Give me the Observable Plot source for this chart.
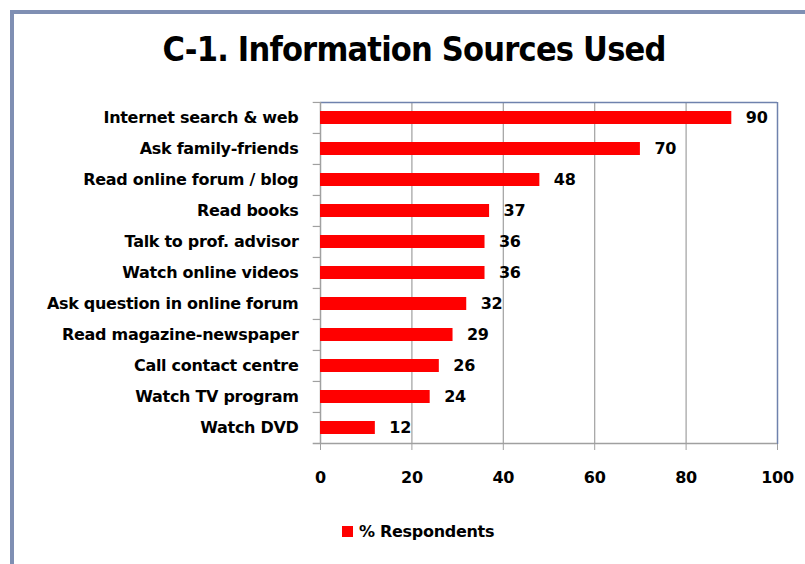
<!DOCTYPE html>
<html>
<head>
<meta charset="utf-8">
<script src="https://cdn.jsdelivr.net/npm/d3@7"></script>
<script src="https://cdn.jsdelivr.net/npm/@observablehq/plot@0.6"></script>
<style>
  html, body { margin: 0; padding: 0; background: #fff; }
  #wrap { position: relative; width: 805px; height: 564px; overflow: hidden; background: #fff; }
  #frame { position: absolute; left: 10px; top: 10px; width: 820px; height: 580px;
           border-left: 4px solid #7f8fb3; border-top: 4px solid #7f8fb3; box-sizing: border-box; }
  #title { position: absolute; left: 414px; top: 29px; transform: translateX(-50%); white-space: nowrap;
           font-family: "DejaVu Sans Condensed", "DejaVu Sans", sans-serif; font-weight: bold;
           font-size: 34px; letter-spacing: -0.8px; color: #000; line-height: 1.2; }
  #chart { position: absolute; left: 0; top: 0; }
  #legend { position: absolute; left: 342px; top: 522px; display: flex; align-items: center;
            font-family: "DejaVu Sans", sans-serif; font-weight: bold;
            font-size: 16px; letter-spacing: -0.3px; color: #000; }
  #legend .sw { width: 11px; height: 11px; background: #ff0000; margin-right: 6px; }
  svg text { letter-spacing: -0.3px; }
  [aria-label="x-axis tick"] { stroke: #a0a0a0; }
  [aria-label="x-axis"] .tick line { stroke: #a0a0a0; }
</style>
</head>
<body>
<div id="wrap">
  <div id="frame"></div>
  <div id="title">C-1. Information Sources Used</div>
  <div id="chart"></div>
  <div id="legend"><div class="sw"></div><span>% Respondents</span></div>
</div>
<script>
const categories = [
  "Internet search & web",
  "Ask family-friends",
  "Read online forum / blog",
  "Read books",
  "Talk to prof. advisor",
  "Watch online videos",
  "Ask question in online forum",
  "Read magazine-newspaper",
  "Call contact centre",
  "Watch TV program",
  "Watch DVD"
];
const values = [90, 70, 48, 37, 36, 36, 32, 29, 26, 24, 12];
const xTicks = [0, 20, 40, 60, 80, 100];
const gridTicks = [20, 40, 60, 80];

const data = categories.map((c, i) => ({category: c, value: values[i]}));

const W = 805, H = 500, mT = 102, mB = H - 444, mL = 320, mR = W - 777;
const step = (H - mT - mB) / categories.length;
const first = categories[0];
const last = categories[categories.length - 1];

const chart = Plot.plot({
  width: W,
  height: H,
  marginTop: mT,
  marginBottom: mB,
  marginLeft: mL,
  marginRight: mR,
  style: {
    fontFamily: '"DejaVu Sans", sans-serif',
    fontSize: "16px",
    fontWeight: "bold",
    color: "#000",
    background: "transparent"
  },
  x: {domain: [0, 100], ticks: xTicks, tickSize: 6, tickPadding: 21, label: null},
  y: {domain: categories, paddingInner: 0.58, paddingOuter: 0.29, tickSize: 0, tickPadding: 22, label: null},
  marks: [
    Plot.ruleX(gridTicks, {stroke: "#a0a0a0", strokeWidth: 1.2}),
    Plot.ruleX([100], {stroke: "#6f82ad", strokeWidth: 1.5}),
    Plot.ruleY([first], {y: d => d, x1: 0, x2: 100, dy: -step / 2, stroke: "#6f82ad", strokeWidth: 1.5}),
    Plot.ruleY(categories, {y: d => d, x1: -1.6, x2: 0, dy: -step / 2, stroke: "#a0a0a0", strokeWidth: 1.2}),
    Plot.ruleY([last], {y: d => d, x1: -1.6, x2: 100, dy: step / 2, stroke: "#a0a0a0", strokeWidth: 1.5}),
    Plot.ruleX([0], {stroke: "#a0a0a0", strokeWidth: 1.5}),
    Plot.barX(data, {x: "value", y: "category", fill: "#ff0000"}),
    Plot.text(data, {x: "value", y: "category", text: d => String(d.value), textAnchor: "start", dx: 14, fill: "#000"})
  ]
});
document.getElementById("chart").appendChild(chart);
</script>
</body>
</html>
